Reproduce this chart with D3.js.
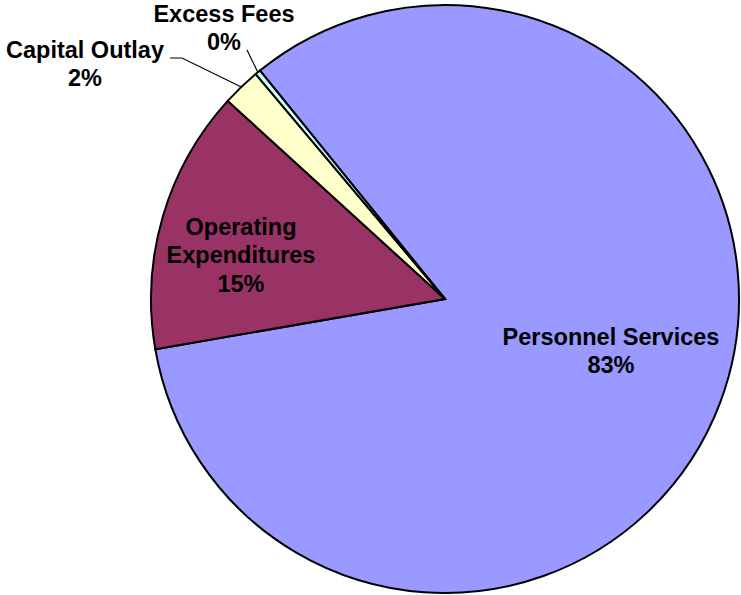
<html lang="en">
    <head>
        <title>Expenditure pie</title>
        <meta charset="utf-8">
        <style>
            body { margin: 0; background: white; }
            svg { background: white; display: block; }
            .slice { stroke: #000; stroke-width: 2; }
            .label { font-family: "Liberation Sans", Arial, sans-serif; font-weight: bold; font-size: 23.5px; fill: #000; text-anchor: middle; }
            .leader { fill: none; stroke: #000; stroke-width: 1.2; }
        </style>
    </head>
    <body>
        <div id="chart"></div>
        <script src="https://cdnjs.cloudflare.com/ajax/libs/d3/7.8.5/d3.min.js"></script>
        <script>
            // data (percent of total)
            var categories = ["Personnel Services", "Operating Expenditures", "Capital Outlay", "Excess Fees"];
            var values = [83.1, 14.5, 2.1, 0.3];
            var colors = ["#9999FF", "#993366", "#FFFFCC", "#CCFFFF"];

            var width = 741, height = 595;
            var cx = 445, cy = 299, radius = 294;

            // label layout: line breaks, text centre, and leader line start points
            var labelLines = [["Personnel Services"], ["Operating", "Expenditures"], ["Capital Outlay"], ["Excess Fees"]];
            var labelPos = [[611, 345], [241, 235], [85, 58], [224, 22]];
            var leaderStart = [null, null, [[170, 58], [182, 58]], [[247, 50]]];

            var svg = d3.select("#chart")
                .append("svg")
                .attr("width", width)
                .attr("height", height);

            var g = svg.append("g")
                .attr("transform", "translate(" + cx + "," + cy + ")");

            var start = -39 * Math.PI / 180;
            var pie = d3.pie()
                .sort(null)
                .value(function(d) { return d; })
                .startAngle(start)
                .endAngle(start + 2 * Math.PI);

            var arc = d3.arc()
                .innerRadius(0)
                .outerRadius(radius);

            var arcs = pie(values);
            var total = d3.sum(values);

            g.selectAll(".slice")
                .data(arcs)
                .enter().append("path")
                .attr("class", "slice")
                .attr("d", arc)
                .style("fill", function(d, i) { return colors[i]; });

            // leader lines from outside labels to the rim
            arcs.forEach(function(d, i)
            {
                if (!leaderStart[i]) return;
                var mid = (d.startAngle + d.endAngle) / 2;
                var end = [cx + radius * Math.sin(mid), cy - radius * Math.cos(mid)];
                var pts = leaderStart[i].concat([end]);
                svg.append("path")
                    .attr("class", "leader")
                    .attr("d", d3.line()(pts));
            });

            arcs.forEach(function(d, i)
            {
                var pct = Math.round(d.value / total * 100) + "%";
                var lines = labelLines[i].concat([pct]);
                var t = svg.append("text")
                    .attr("class", "label")
                    .attr("x", labelPos[i][0])
                    .attr("y", labelPos[i][1]);
                lines.forEach(function(s, k)
                {
                    t.append("tspan")
                        .attr("x", labelPos[i][0])
                        .attr("dy", k == 0 ? 0 : 28.3)
                        .text(s);
                });
            });
        </script>
    </body>
</html>
